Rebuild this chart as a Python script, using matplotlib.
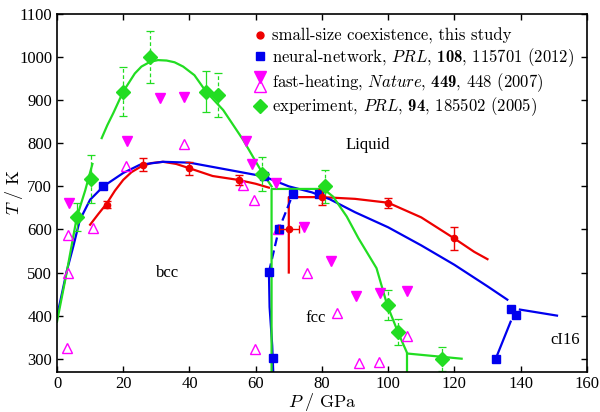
import matplotlib
matplotlib.use("Agg")
import matplotlib.pyplot as plt
from matplotlib.lines import Line2D
from matplotlib.legend_handler import HandlerBase

plt.rcParams['mathtext.fontset'] = 'custom'
plt.rcParams['mathtext.rm'] = 'cmr10'
plt.rcParams['mathtext.it'] = 'cmmi10'
plt.rcParams['mathtext.bf'] = 'cmb10'
plt.rcParams['font.family'] = 'Liberation Serif'
plt.rcParams['axes.unicode_minus'] = False

RED = '#ee0000'
BLUE = '#0000ee'
GREEN = '#22dd22'
MAG = '#ff00ff'

# small-size coexistence (this study): points + errors
red_P = [15, 26, 40, 55, 80, 100, 120]
red_T = [657, 750, 742, 715, 675, 662, 579]
red_err = [8, 15, 15, 12, 18, 12, 26]
# the point with horizontal error bar
red_x_P = [70]
red_x_T = [600]
red_x_err = [3]
# red curves
red_c1_P = [10, 12.5, 15, 17.5, 20, 22.5, 25.6, 28.5, 32, 36, 40, 47, 54.7, 60, 64]
red_c1_T = [611, 636, 660, 690, 715, 733, 747, 754, 757, 752, 742, 724, 715, 706, 697]
red_c2_P = [70, 70, 80, 90, 100, 110, 120, 126, 130]
red_c2_T = [500, 675, 675, 671, 662, 628, 579, 548, 531]

# neural-network
blue_P = [14, 62.5, 71.3, 79, 67, 64, 65.3, 132.5, 137, 138.6]
blue_T = [700, 723, 683, 683, 600, 501, 302, 300, 415, 402]
blue_melt_P = [0, 2.9, 4.9, 6.9, 10, 14, 20, 25, 32, 40, 52, 62.5, 70, 77, 82.4, 90, 100, 110, 120, 130, 136]
blue_melt_T = [398, 502, 560, 622, 669, 700, 731, 750, 757, 755, 738, 723, 700, 686, 670, 640, 605, 563, 518, 468, 437]
blue_bf_lo_P = [65.3, 65.0, 64.2, 64]
blue_bf_lo_T = [270, 330, 420, 501]
blue_bf_hi_P = [64, 67, 71.3]
blue_bf_hi_T = [501, 600, 683]
blue_ci_P = [132.5, 137]
blue_ci_T = [300, 386]
blue_ci2_P = [139.8, 151]
blue_ci2_T = [414, 400]

# fast-heating
fh_fill_P = [3.6, 21, 31, 38.5, 57, 58.8, 66, 74.5, 82.7, 90.3, 97.5, 105.6]
fh_fill_T = [662, 805, 905, 907, 805, 751, 707, 606, 526, 445, 452, 458]
fh_open_P = [3.2, 3.2, 3.0, 11, 20.7, 38.4, 56.2, 59.5, 59.8, 66.8, 75.6, 84.6, 91.3, 97.2, 105.6]
fh_open_T = [588, 500, 325, 603, 748, 799, 703, 669, 323, 600, 499, 406, 290, 292, 353]

# experiment
ex_P = [6, 10.2, 20, 28, 45, 48.7, 62, 81, 100, 103, 116.4]
ex_T = [629, 717, 920, 1000, 920, 912, 729, 700, 425, 361, 300]
ex_err = [33, 55, 57, 60, 47, 52, 40, 38, 35, 30, 28]
ex_dashed = [False, True, True, True, False, True, True, True, True, True, True]
ex_c1_P = [0, 2.9, 6, 8.5, 10.7]
ex_c1_T = [386, 499, 629, 690, 752]
ex_c2_P = [13.5, 15.2, 17, 20, 23.5, 25.5, 28.1, 30.5, 33.1, 35.5, 38.1, 41.5, 45, 50.2, 56.2, 61.8, 64.8]
ex_c2_T = [812, 842, 870, 920, 962, 978, 989, 993, 992, 988, 978, 958, 920, 877, 808, 734, 700]
ex_c3_P = [64.8, 64.8, 64.8, 80.5, 83.4, 87.5, 91, 96.5, 99.7, 103, 105.8, 122.2]
ex_c3_T = [270, 694, 694, 694, 676, 630, 580, 510, 425, 361, 312, 300]
ex_c4_P = [105.8, 105.8]
ex_c4_T = [312, 270]

phase_labels = ['Liquid', 'bcc', 'fcc', 'cI16']
phase_P = [94, 33.5, 78, 153.4]
phase_T = [796, 499, 395, 344]


class HandlerStack(HandlerBase):
    def create_artists(self, legend, orig_handle, xdescent, ydescent,
                       width, height, fontsize, trans):
        x = 0.5 * width - xdescent
        y = 0.5 * height - ydescent
        a = Line2D([x], [y + 0.3 * height], marker='v', ls='', color=MAG,
                   ms=8, transform=trans)
        b = Line2D([x], [y - 0.4 * height], marker='^', ls='', mfc='none',
                   mec=MAG, ms=8, transform=trans)
        return [a, b]


fig = plt.figure(figsize=(6, 4.12), dpi=100)
ax = fig.add_axes([0.095, 0.098, 0.883, 0.868])

lw = 1.6
# curves
ax.plot(red_c1_P, red_c1_T, color=RED, lw=lw)
ax.plot(red_c2_P, red_c2_T, color=RED, lw=lw)
ax.plot(blue_melt_P, blue_melt_T, color=BLUE, lw=lw)
ax.plot(blue_bf_lo_P, blue_bf_lo_T, color=BLUE, lw=lw)
ax.plot(blue_bf_hi_P, blue_bf_hi_T, color=BLUE, lw=lw, ls=(0, (4, 2)))
ax.plot(blue_ci_P, blue_ci_T, color=BLUE, lw=lw)
ax.plot(blue_ci2_P, blue_ci2_T, color=BLUE, lw=lw)
ax.plot(ex_c1_P, ex_c1_T, color=GREEN, lw=lw)
ax.plot(ex_c2_P, ex_c2_T, color=GREEN, lw=lw)
ax.plot(ex_c3_P, ex_c3_T, color=GREEN, lw=lw)
ax.plot(ex_c4_P, ex_c4_T, color=GREEN, lw=lw)

# fast-heating markers
ax.plot(fh_open_P, fh_open_T, ls='', marker='^', ms=7.5, mfc='none', mec=MAG, mew=1.0)
ax.plot(fh_fill_P, fh_fill_T, ls='', marker='v', ms=7.5, color=MAG)

# experiment with error bars
for p, t, e, d in zip(ex_P, ex_T, ex_err, ex_dashed):
    eb = ax.errorbar([p], [t], yerr=[e], fmt='D', ms=7, color=GREEN,
                     ecolor=GREEN, elinewidth=0.9, capsize=3, capthick=0.9)
    if d:
        eb[2][0].set_linestyle((0, (3, 2)))

# neural network squares
ax.plot(blue_P, blue_T, ls='', marker='s', ms=5.5, color=BLUE)

# this study
ax.errorbar(red_P, red_T, yerr=red_err, fmt='o', ms=4.5, color=RED,
            ecolor=RED, elinewidth=1.0, capsize=3, capthick=1.0)
ax.errorbar(red_x_P, red_x_T, xerr=red_x_err, fmt='o', ms=4.5, color=RED,
            ecolor=RED, elinewidth=1.0, capsize=3, capthick=1.0)

for lab, p, t in zip(phase_labels, phase_P, phase_T):
    ax.text(p, t, lab, fontsize=12, ha='center', va='center')

ax.set_xlim(0, 160)
ax.set_ylim(270, 1100)
ax.set_xticks(range(0, 161, 20))
ax.set_yticks(range(300, 1101, 100))
ax.tick_params(direction='in', top=True, right=True, labelsize=12, length=4, width=1)
for s in ax.spines.values():
    s.set_linewidth(1.2)

ax.set_xlabel(r'$P\ /\ \mathrm{GPa}$', fontsize=13)
ax.set_ylabel(r'$T\ /\ \mathrm{K}$', fontsize=13)
ax.xaxis.set_label_coords(0.5, -0.055)
ax.yaxis.set_label_coords(-0.06, 0.5)

h1 = Line2D([], [], ls='', marker='o', ms=5, color=RED)
h2 = Line2D([], [], ls='', marker='s', ms=5.5, color=BLUE)
h3 = (Line2D([], [], marker='v'), Line2D([], [], marker='^'))
h4 = Line2D([], [], ls='', marker='D', ms=7, color=GREEN)
labels = ['small-size coexistence, this study',
          r'neural-network, $PRL$, $\mathbf{108}$, 115701 (2012)',
          r'fast-heating, $Nature$, $\mathbf{449}$, 448 (2007)',
          r'experiment, $PRL$, $\mathbf{94}$, 185502 (2005)']
ax.legend([h1, h2, h3, h4], labels, handler_map={tuple: HandlerStack()},
          loc='upper left', bbox_to_anchor=(0.36, 0.98), frameon=False,
          prop={'family': 'cmr10', 'size': 12}, handlelength=0.7,
          handletextpad=0.35, labelspacing=0.12, borderaxespad=0)

fig.savefig('out.png', dpi=100)
